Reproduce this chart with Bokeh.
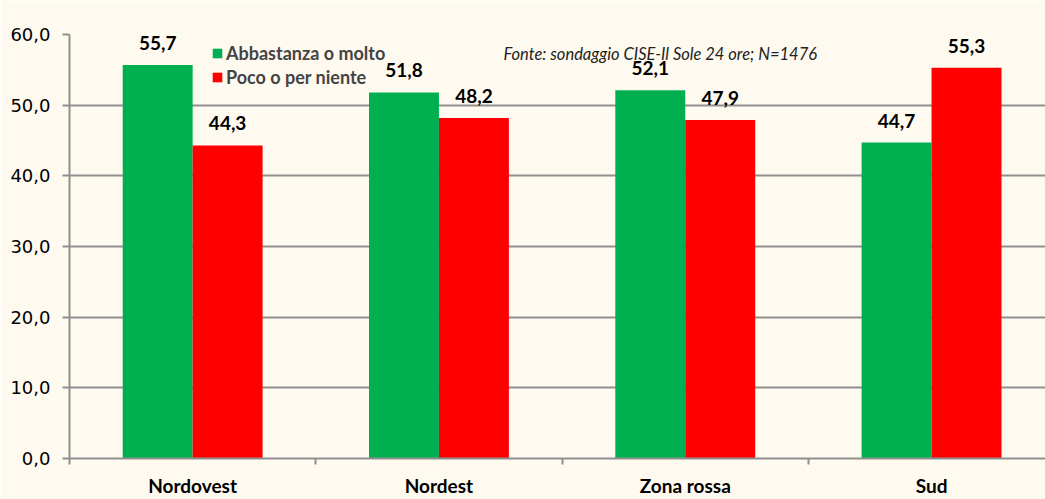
from bokeh.plotting import figure
from bokeh.models import (Range1d, FixedTicker, Legend, LegendItem, Label,
                          LabelSet, BoxAnnotation, ColumnDataSource)
from bokeh.core.properties import value
from bokeh.embed import file_html
from bokeh.resources import INLINE

categories = ["Nordovest", "Nordest", "Zona rossa", "Sud"]
abbastanza = [55.7, 51.8, 52.1, 44.7]
poco = [44.3, 48.2, 47.9, 55.3]
series_names = ["Abbastanza o molto", "Poco o per niente"]
y_ticks = [0, 10, 20, 30, 40, 50, 60]
source_note = "Fonte: sondaggio CISE-Il Sole 24 ore; N=1476"

CREAM = "#FFFAF0"
GRID = "#8f8f8f"
GREEN = "#00B050"
RED = "#FF0000"


def fmt(v):
    return f"{v:.1f}".replace(".", ",")


centers = [i + 0.5 for i in range(len(categories))]
off = 0.142
bw = 0.284

p = figure(width=1045, height=499, output_backend="svg", toolbar_location=None,
           x_range=Range1d(0, 976 / 246.3), y_range=Range1d(0, 60),
           min_border_left=69, min_border_right=0, min_border_top=34,
           min_border_bottom=38)
p.background_fill_color = CREAM
p.border_fill_color = CREAM
p.outline_line_color = None

src_g = ColumnDataSource(dict(x=[c - off for c in centers], top=abbastanza,
                              lbl=[fmt(v) for v in abbastanza]))
src_r = ColumnDataSource(dict(x=[c + off for c in centers], top=poco,
                              lbl=[fmt(v) for v in poco]))

rg = p.vbar(x="x", top="top", width=bw, source=src_g, fill_color=GREEN,
            line_color=None)
rr = p.vbar(x="x", top="top", width=bw, source=src_r, fill_color=RED,
            line_color=None)

for s in (src_g, src_r):
    p.add_layout(LabelSet(x="x", y="top", text="lbl", source=s,
                          text_align="center", text_baseline="alphabetic",
                          y_offset=15, text_font=value("Lato"),
                          text_font_style="bold", text_font_size="19px",
                          text_color="#000000"))

# y axis
p.yaxis.ticker = FixedTicker(ticks=y_ticks)
p.yaxis.major_label_overrides = {t: fmt(t) for t in y_ticks}
p.yaxis.major_label_text_font = "DejaVu Sans"
p.yaxis.major_label_text_font_size = "18px"
p.yaxis.major_label_text_color = "#000000"
p.yaxis.major_tick_out = 7
p.yaxis.major_tick_in = 0
p.yaxis.minor_tick_line_color = None
p.yaxis.major_tick_line_color = GRID
p.yaxis.major_tick_line_width = 2
p.yaxis.axis_line_color = GRID
p.yaxis.axis_line_width = 2
p.yaxis.major_label_standoff = 12

# x axis: names at category centres, boundary ticks as minor ticks
p.xaxis.ticker = FixedTicker(ticks=centers, minor_ticks=[0, 1, 2, 3, 4])
p.xaxis.major_label_overrides = {c: n for c, n in zip(centers, categories)}
p.xaxis.major_label_text_font = "Lato"
p.xaxis.major_label_text_font_style = "bold"
p.xaxis.major_label_text_font_size = "19px"
p.xaxis.major_label_text_color = "#000000"
p.xaxis.major_label_standoff = 9
p.xaxis.major_tick_out = 0
p.xaxis.major_tick_in = 0
p.xaxis.major_tick_line_color = None
p.xaxis.minor_tick_out = 6
p.xaxis.minor_tick_in = 0
p.xaxis.minor_tick_line_color = GRID
p.xaxis.minor_tick_line_width = 2
p.xaxis.axis_line_color = GRID
p.xaxis.axis_line_width = 2

p.xgrid.grid_line_color = None
p.ygrid.grid_line_color = GRID
p.ygrid.grid_line_width = 2

legend = Legend(items=[LegendItem(label=series_names[0], renderers=[rg]),
                       LegendItem(label=series_names[1], renderers=[rr])],
                location=(142, 370), background_fill_alpha=0,
                border_line_alpha=0, glyph_width=12, glyph_height=12,
                label_standoff=3, spacing=2, padding=0, margin=0,
                label_height=20, label_text_font="Lato",
                label_text_font_style="bold", label_text_font_size="18px")
p.add_layout(legend)

note = Label(x=(503 - 69) / 246.3, y=57.2, text=source_note,
             text_font="Lato", text_font_style="italic", text_font_size="16.5px",
             text_color="#222222", text_baseline="alphabetic")
p.add_layout(note)

# white strip at top and chart-area border line on the left
p.add_layout(BoxAnnotation(left=0, right=1045, top=0, bottom=12,
                           left_units="canvas", right_units="canvas",
                           top_units="canvas", bottom_units="canvas",
                           fill_color="white", fill_alpha=1, line_alpha=0))
p.add_layout(BoxAnnotation(left=0, right=9, top=12, bottom=499,
                           left_units="canvas", right_units="canvas",
                           top_units="canvas", bottom_units="canvas",
                           fill_color="white", fill_alpha=1, line_alpha=0))
p.add_layout(BoxAnnotation(left=9, right=10.5, top=12, bottom=499,
                           left_units="canvas", right_units="canvas",
                           top_units="canvas", bottom_units="canvas",
                           fill_color="#9a9a9a", fill_alpha=1, line_alpha=0))

open("out.html", "w").write(file_html(p, INLINE))
